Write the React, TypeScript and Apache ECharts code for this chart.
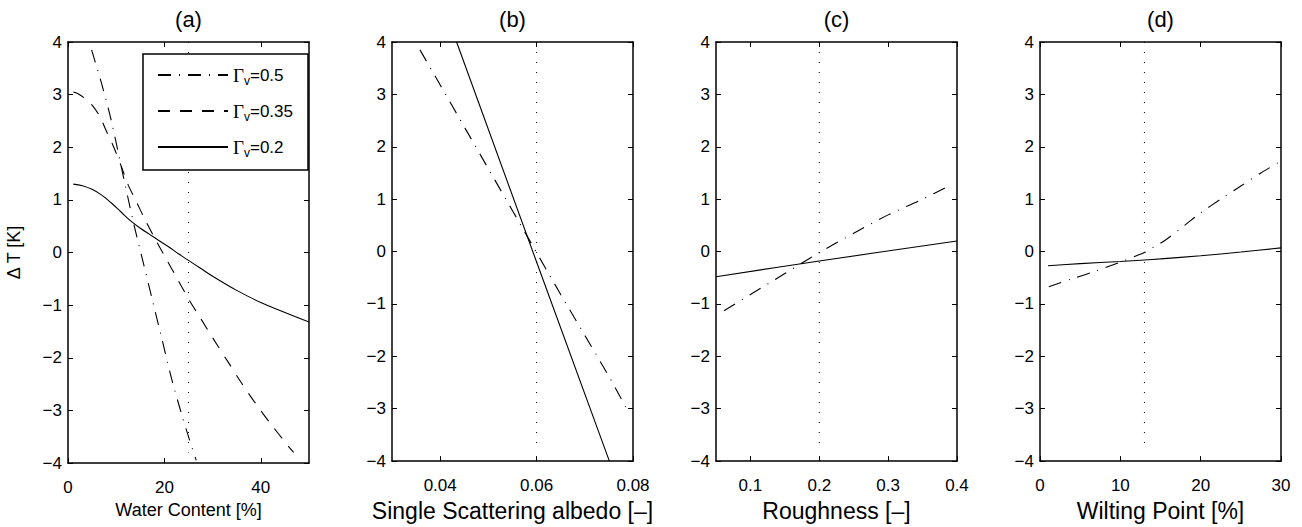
import React, { useEffect, useRef } from "react";
import * as echarts from "echarts";

// ---------- texts ----------
const panelTitles = ["(a)", "(b)", "(c)", "(d)"];
const xNames = ["Water Content [%]", "Single Scattering albedo [–]", "Roughness [–]", "Wilting Point [%]"];
const yName = "Δ T [K]";
const seriesNames = ["Γv=0.5", "Γv=0.35", "Γv=0.2"];

// ---------- axes ----------
const xMins = [0, 0.03, 0.05, 0];
const xMaxs = [50, 0.08, 0.4, 30];
const xTicks = [
  [0, 20, 40],
  [0.04, 0.06, 0.08],
  [0.1, 0.2, 0.3, 0.4],
  [0, 10, 20, 30],
];
const yTicks = [-4, -3, -2, -1, 0, 1, 2, 3, 4];
const yMin = -4;
const yMax = 4;

// nominal value (dotted vertical line) per panel
const refValues = [25, 0.06, 0.2, 13];
const refYStart = 4;
const refYEnd = -3.8;

// ---------- data ----------
// panel (a)
const aDashDotX = [4.9, 7, 9, 11, 13.5, 15.5, 17.5, 19.5, 21.5, 23.5, 25, 26.6];
const aDashDotY = [3.85, 3.2, 2.5, 1.65, 0.6, -0.15, -0.9, -1.65, -2.4, -3.05, -3.5, -3.95];
const aDashedX = [1.1, 2, 3.5, 5, 6.5, 8, 9.5, 11, 12.5, 14, 16, 18, 20, 22.5, 25, 27.5, 30, 33, 36, 39, 42, 45, 46.8];
const aDashedY = [3.05, 3.02, 2.93, 2.8, 2.6, 2.3, 2.0, 1.65, 1.28, 1.0, 0.62, 0.27, -0.06, -0.47, -0.88, -1.25, -1.62, -2.05, -2.48, -2.88, -3.25, -3.6, -3.8];
const aSolidX = [1.1, 3, 5, 7, 9, 11, 13, 15, 17, 19, 21, 23, 25, 27.5, 30, 35, 40, 45, 50];
const aSolidY = [1.3, 1.27, 1.2, 1.09, 0.94, 0.77, 0.6, 0.46, 0.34, 0.22, 0.1, -0.03, -0.15, -0.3, -0.45, -0.72, -0.95, -1.14, -1.32];
// panel (b)
const bDashDotX = [0.0358, 0.04, 0.045, 0.05, 0.055, 0.06, 0.065, 0.07, 0.075, 0.0787];
const bDashDotY = [3.85, 3.18, 2.38, 1.58, 0.78, -0.02, -0.82, -1.6, -2.38, -3.0];
const bSolidX = [0.0434, 0.06, 0.0751];
const bSolidY = [4, -0.2, -4];
// panel (c)
const cDashDotX = [0.0616, 0.1, 0.15, 0.2, 0.25, 0.3, 0.35, 0.392];
const cDashDotY = [-1.13, -0.82, -0.42, -0.02, 0.35, 0.7, 1.0, 1.28];
const cSolidX = [0.05, 0.2, 0.4];
const cSolidY = [-0.48, -0.18, 0.2];
// panel (d)
const dDashDotX = [1.1, 4, 7, 10, 12, 13, 14, 15.8, 18, 20, 22.5, 25, 27.5, 30];
const dDashDotY = [-0.67, -0.52, -0.37, -0.2, -0.08, -0.02, 0.07, 0.24, 0.5, 0.74, 1.0, 1.25, 1.5, 1.73];
const dSolidX = [1, 5, 10, 13, 15, 20, 25, 30];
const dSolidY = [-0.27, -0.23, -0.19, -0.16, -0.14, -0.08, -0.01, 0.07];

const zip = (xs: number[], ys: number[]) => xs.map((x, i) => [x, ys[i]]);

// ---------- layout / style ----------
const gridLefts = [68, 392, 716, 1040];
const gridTop = 42;
const gridW = 241;
const gridH = 421;
const FONT = "Liberation Sans, Arial, Helvetica, sans-serif";
const BLACK = "#000";
const DASHDOT = [13, 8, 1, 8];
const DASHED = [12, 10];
const DOTTED = [1, 9];

const fmtY = (v: number) => (v < 0 ? "\u2212" + Math.abs(v) : String(v));
const fmtX = (v: number) => String(Math.round(v * 1000) / 1000);

export default function App() {
  const ref = useRef<HTMLDivElement>(null);

  useEffect(() => {
    document.body.style.margin = "0";
    if (!ref.current) return;
    const chart = echarts.init(ref.current, undefined, { renderer: "svg" });

    const grid = gridLefts.map((l) => ({ left: l, top: gridTop, width: gridW, height: gridH }));

    const xAxis: any[] = [];
    const yAxis: any[] = [];
    for (let i = 0; i < 4; i++) {
      const axisLine = { show: true, onZero: false, lineStyle: { color: BLACK, width: 1.5 } };
      const tick = (vals: number[]) => ({
        show: true,
        inside: true,
        length: 5,
        customValues: vals,
        lineStyle: { color: BLACK, width: 1 },
      });
      xAxis.push({
        type: "value",
        gridIndex: i,
        position: "bottom",
        min: xMins[i],
        max: xMaxs[i],
        axisLine,
        axisTick: tick(xTicks[i]),
        axisLabel: {
          show: true,
          customValues: xTicks[i],
          formatter: fmtX,
          color: BLACK,
          fontSize: 17,
          fontFamily: FONT,
          margin: 16,
        },
        splitLine: { show: false },
        name: xNames[i],
        nameLocation: "middle",
        nameGap: 37,
        nameTextStyle: { color: BLACK, fontSize: i === 0 ? 18 : 23, fontFamily: FONT },
      });
      xAxis.push({
        type: "value",
        gridIndex: i,
        position: "top",
        min: xMins[i],
        max: xMaxs[i],
        axisLine,
        axisTick: tick(xTicks[i]),
        axisLabel: { show: false },
        splitLine: { show: false },
      });
      yAxis.push({
        type: "value",
        gridIndex: i,
        position: "left",
        min: yMin,
        max: yMax,
        axisLine,
        axisTick: tick(yTicks),
        axisLabel: {
          show: true,
          customValues: yTicks,
          formatter: fmtY,
          color: BLACK,
          fontSize: 17,
          fontFamily: FONT,
          margin: 6,
        },
        splitLine: { show: false },
        ...(i === 0
          ? {
              name: yName,
              nameLocation: "middle",
              nameRotate: 90,
              nameGap: 45,
              nameTextStyle: { color: BLACK, fontSize: 18, fontFamily: FONT },
            }
          : {}),
      });
      yAxis.push({
        type: "value",
        gridIndex: i,
        position: "right",
        min: yMin,
        max: yMax,
        axisLine,
        axisTick: tick(yTicks),
        axisLabel: { show: false },
        splitLine: { show: false },
      });
    }

    const line = (panel: number, name: string, data: number[][], dash: any, smooth = 0.3) => ({
      type: "line",
      name,
      xAxisIndex: panel * 2,
      yAxisIndex: panel * 2,
      data,
      symbol: "none",
      showSymbol: false,
      smooth,
      silent: true,
      lineStyle: { color: BLACK, width: 1.1, type: dash },
      itemStyle: { color: BLACK },
    });

    const series: any[] = [
      line(0, seriesNames[0], zip(aDashDotX, aDashDotY), DASHDOT),
      line(0, seriesNames[1], zip(aDashedX, aDashedY), DASHED),
      line(0, seriesNames[2], zip(aSolidX, aSolidY), "solid", 0.4),
      line(1, seriesNames[0], zip(bDashDotX, bDashDotY), DASHDOT, 0),
      line(1, seriesNames[2], zip(bSolidX, bSolidY), "solid", 0),
      line(2, seriesNames[0], zip(cDashDotX, cDashDotY), DASHDOT),
      line(2, seriesNames[2], zip(cSolidX, cSolidY), "solid"),
      line(3, seriesNames[0], zip(dDashDotX, dDashDotY), DASHDOT),
      line(3, seriesNames[2], zip(dSolidX, dSolidY), "solid"),
    ];
    refValues.forEach((v, i) => {
      series.push({
        type: "line",
        name: "nominal",
        xAxisIndex: i * 2,
        yAxisIndex: i * 2,
        data: [
          [v, refYStart],
          [v, refYEnd],
        ],
        symbol: "none",
        silent: true,
        z: 1,
        lineStyle: { color: BLACK, width: 1, type: DOTTED },
      });
    });

    const graphic = panelTitles.map((t, i) => ({
      type: "text",
      x: gridLefts[i] + gridW / 2,
      y: 19,
      style: {
        text: t,
        align: "center",
        verticalAlign: "middle",
        fontSize: 22,
        fontFamily: FONT,
        fill: BLACK,
      },
    }));

    chart.setOption({
      animation: false,
      backgroundColor: "#fff",
      grid,
      xAxis,
      yAxis,
      series,
      graphic,
      legend: {
        data: seriesNames,
        orient: "vertical",
        left: 143,
        top: 54,
        padding: [9, 15, 11, 14],
        itemGap: 12,
        itemWidth: 70,
        itemHeight: 24,
        backgroundColor: "#fff",
        borderColor: BLACK,
        borderWidth: 1.5,
        borderRadius: 0,
        selectedMode: false,
        itemStyle: { opacity: 0, borderWidth: 0 },
        formatter: (name: string) => `{g|Γ}{s|v}{t|${name.slice(2)}}`,
        textStyle: {
          color: BLACK,
          fontSize: 17,
          fontFamily: FONT,
          rich: {
            g: { fontSize: 19, lineHeight: 24, fontFamily: "Liberation Serif, serif", color: BLACK },
            s: { fontSize: 12, lineHeight: 12, padding: [12, 0, 0, 0], fontFamily: FONT, color: BLACK },
            t: { fontSize: 17, lineHeight: 24, fontFamily: FONT, color: BLACK },
          },
        },
      },
    });

    return () => chart.dispose();
  }, []);

  return <div ref={ref} style={{ width: 1302, height: 527 }} />;
}
